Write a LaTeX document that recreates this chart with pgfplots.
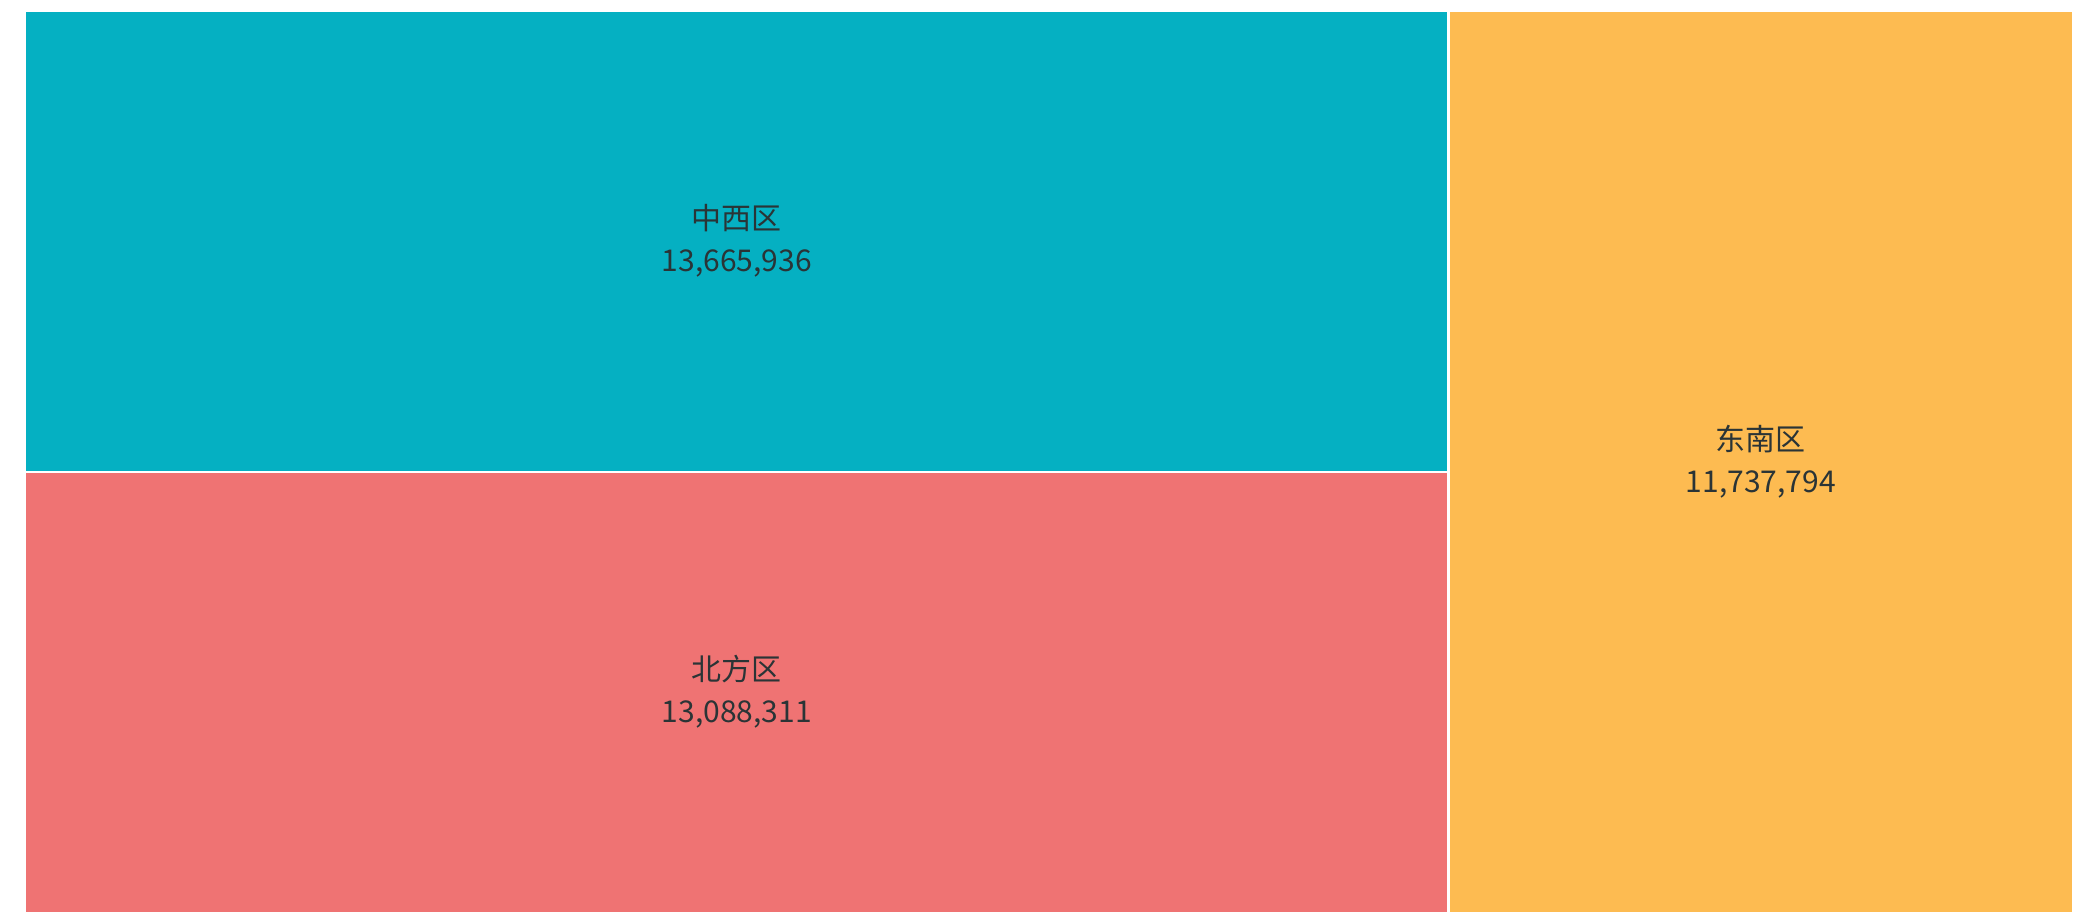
\documentclass[border=0pt]{standalone}
\usepackage{fontspec}
\usepackage{pgfplots}
\pgfplotsset{compat=1.18}
\newfontfamily\cjk{Noto Sans CJK SC}
\definecolor{cteal}{HTML}{05B0C2}
\definecolor{cred}{HTML}{EF7373}
\definecolor{corange}{HTML}{FDBB51}
\definecolor{ctext}{HTML}{2A3436}
\tikzset{lbl/.style={font=\cjk\fontsize{7.5}{10.5}\selectfont, align=center, text=ctext}}
\begin{document}
\begin{tikzpicture}
\begin{axis}[
  scale only axis, width=512pt, height=225.5pt,
  xmin=0, xmax=38.492041, ymin=0, ymax=1,
  hide axis, clip=false,
]
% values in millions: 中西区 13.665936, 北方区 13.088311, 东南区 11.737794
\addplot[fill=cteal, draw=white, line width=0.6pt] coordinates {(0,0.48920) (26.754247,0.48920) (26.754247,1) (0,1)} -- cycle;
\addplot[fill=cred, draw=white, line width=0.6pt] coordinates {(0,0) (26.754247,0) (26.754247,0.48920) (0,0.48920)} -- cycle;
\addplot[fill=corange, draw=white, line width=0.6pt] coordinates {(26.754247,0) (38.492041,0) (38.492041,1) (26.754247,1)} -- cycle;
\node[lbl] at (axis cs:13.377,0.745) {中西区\\13,665,936};
\node[lbl] at (axis cs:13.377,0.245) {北方区\\13,088,311};
\node[lbl] at (axis cs:32.623,0.50) {东南区\\11,737,794};
\end{axis}
\path[use as bounding box] (-6.25pt,0) rectangle (518.25pt,228.25pt);
\end{tikzpicture}
\end{document}
